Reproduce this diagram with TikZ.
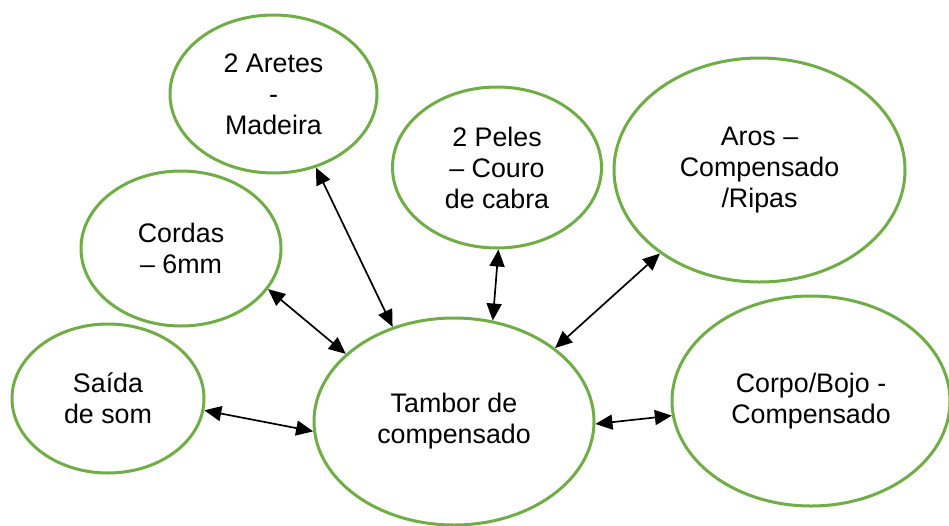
\documentclass[tikz,border=0pt]{standalone}
\usepackage{fontspec}
\setmainfont{Liberation Sans}
\usetikzlibrary{shapes.geometric,arrows.meta}
\definecolor{elgreen}{HTML}{70AD47}
\tikzset{
  bubble/.style={ellipse, draw=elgreen, line width=3pt, inner sep=0pt, align=center,
    font=\fontsize{26.8}{31}\selectfont},
  link/.style={line width=1.7pt, {Triangle[length=17pt,width=15pt]}-{Triangle[length=17pt,width=15pt]}}
}
\begin{document}
\begin{tikzpicture}[x=1pt,y=-1pt]
\useasboundingbox (0,0) rectangle (949,525);
\node[bubble, minimum width=207pt, minimum height=158pt] (aretes) at (273.5,94) {2 Aretes\\-\\Madeira};
\node[bubble, minimum width=209pt, minimum height=161pt] (peles) at (497,167.5) {2 Peles\\– Couro\\de cabra};
\node[bubble, minimum width=291pt, minimum height=224pt] (aros) at (759.5,170) {Aros –\\Compensado\\/Ripas};
\node[bubble, minimum width=200pt, minimum height=155pt] (cordas) at (181,248.5) {Cordas\\– 6mm};
\node[bubble, minimum width=192pt, minimum height=149pt] (saida) at (108,398.5) {Saída\\de som};
\node[bubble, minimum width=280pt, minimum height=207pt] (tambor) at (454,421.5) {Tambor de\\compensado};
\node[bubble, minimum width=278pt, minimum height=210pt] (corpo) at (811,401) {Corpo/Bojo -\\Compensado};
\draw[link] (aretes.-60.4) -- (tambor.123.1);
\draw[link] (peles.-89.3) -- (tambor.69.9);
\draw[link] (aros.-140.5) -- (tambor.36.5);
\draw[link] (cordas.-25.2) -- (tambor.148.2);
\draw[link] (saida.-7.4) -- (tambor.-176.5);
\draw[link] (corpo.186.2) -- (tambor.-1.4);
\end{tikzpicture}
\end{document}
